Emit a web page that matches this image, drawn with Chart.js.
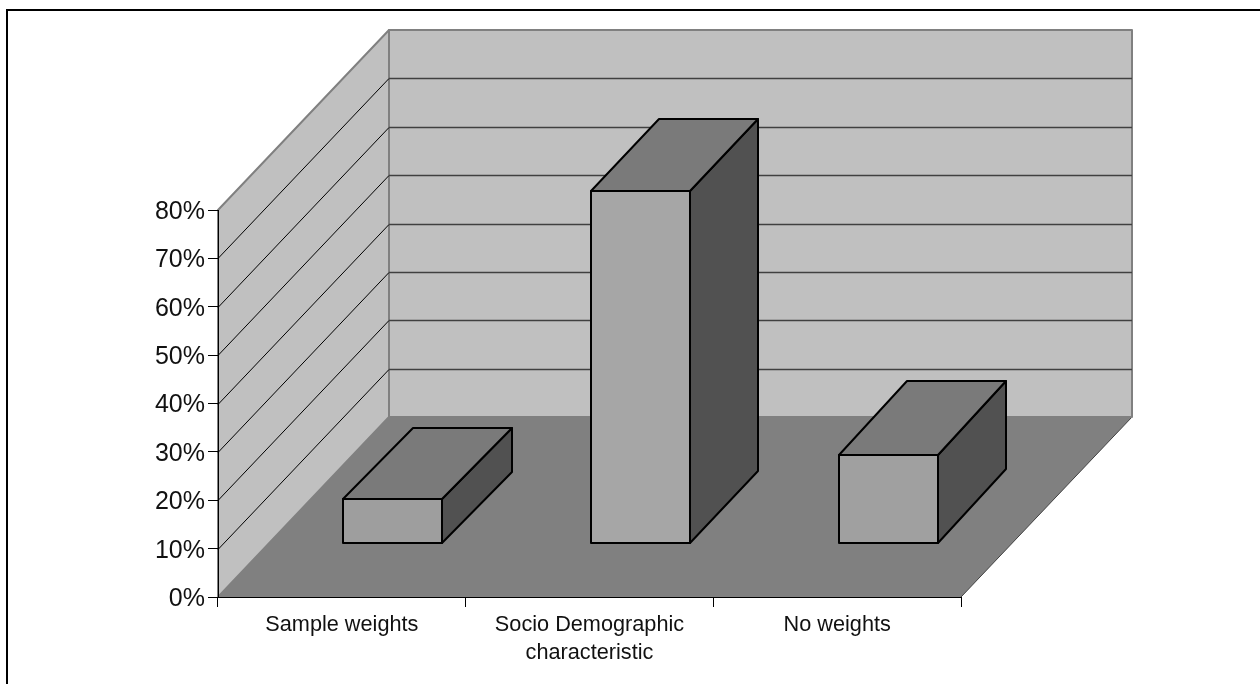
<!DOCTYPE html>
<html>
<head>
<meta charset="utf-8">
<style>
  html, body { margin: 0; padding: 0; background: #fff; }
  canvas { display: block; }
</style>
<script src="https://cdn.jsdelivr.net/npm/chart.js@4/dist/chart.umd.min.js"></script>
</head>
<body>
<canvas id="weights" width="1260" height="684"></canvas>
<script>
const categories = ["Sample weights", ["Socio Demographic", "characteristic"], "No weights"];
const shareValues = [9.0, 72.8, 18.1];
const tickValues = [0, 10, 20, 30, 40, 50, 60, 70, 80];
const frontColors = ["#9e9e9e", "#a6a6a6", "#a0a0a0"];

// depth of the floor and of the bars, in pixels on screen
const floorDepth = { x: 171, y: 180 };
const barStart = { x: 51, y: 54 };
const barDepthX = [70, 68, 68];
const barDepthY = [71, 72, 74];

function poly(ctx, pts, fill, stroke, width) {
    ctx.beginPath();
    pts.forEach(function (p, i) {
        if (i === 0) ctx.moveTo(p[0], p[1]);
        else ctx.lineTo(p[0], p[1]);
    });
    ctx.closePath();
    if (fill) {
        ctx.fillStyle = fill;
        ctx.fill();
    }
    if (stroke) {
        ctx.strokeStyle = stroke;
        ctx.lineWidth = width;
        ctx.lineJoin = "round";
        ctx.stroke();
    }
}

function barBox(bar) {
    const p = bar.getProps(["x", "y", "base", "width"], true);
    return {
        l: Math.round(p.x - p.width / 2),
        r: Math.round(p.x + p.width / 2),
        t: Math.round(p.y),
        b: Math.round(p.base)
    };
}

const walls = {
    id: "walls",
    beforeDraw: function (chart) {
        const ctx = chart.ctx;
        const a = chart.chartArea;
        const y = chart.scales.y;
        const dx = floorDepth.x, dy = floorDepth.y;
        const y0 = y.getPixelForValue(0), yTop = y.getPixelForValue(80);

        ctx.save();
        // outer frame, only left and top are visible in the picture
        ctx.strokeStyle = "#000";
        ctx.lineWidth = 2;
        ctx.beginPath();
        ctx.moveTo(7, 684);
        ctx.lineTo(7, 10);
        ctx.lineTo(1260, 10);
        ctx.stroke();

        // floor
        poly(ctx, [[a.left, y0], [a.right, y0], [a.right + dx, y0 - dy], [a.left + dx, y0 - dy]], "#808080");
        ctx.strokeStyle = "#404040";
        ctx.lineWidth = 1;
        ctx.beginPath();
        ctx.moveTo(a.right, y0);
        ctx.lineTo(a.right + dx, y0 - dy);
        ctx.stroke();

        // side wall and back wall
        poly(ctx, [[a.left, y0], [a.left + dx, y0 - dy], [a.left + dx, yTop - dy], [a.left, yTop]], "#c0c0c0", "#808080", 2);
        poly(ctx, [[a.left + dx, y0 - dy], [a.right + dx, y0 - dy], [a.right + dx, yTop - dy], [a.left + dx, yTop - dy]], "#c0c0c0", "#808080", 2);

        // grid lines run along the side wall then across the back
        tickValues.slice(1, -1).forEach(function (v) {
            const py = Math.round(y.getPixelForValue(v)) + 0.5;
            ctx.strokeStyle = "#000";
            ctx.lineWidth = 1;
            ctx.beginPath();
            ctx.moveTo(a.left, py);
            ctx.lineTo(a.left + dx, py - dy);
            ctx.stroke();
            ctx.strokeStyle = "#404040";
            ctx.lineWidth = 1.4;
            ctx.beginPath();
            ctx.moveTo(a.left + dx, py - dy);
            ctx.lineTo(a.right + dx, py - dy);
            ctx.stroke();
        });
        ctx.restore();
    },
    beforeDatasetDraw: function (chart, args) {
        const ctx = chart.ctx;
        ctx.save();
        ctx.translate(barStart.x, -barStart.y);
        args.meta.data.forEach(function (bar, i) {
            const b = barBox(bar);
            const dx = barDepthX[i], dy = barDepthY[i];
            poly(ctx, [[b.r, b.t], [b.r + dx, b.t - dy], [b.r + dx, b.b - dy], [b.r, b.b]], "#515151", "#000", 2);
            poly(ctx, [[b.l, b.t], [b.l + dx, b.t - dy], [b.r + dx, b.t - dy], [b.r, b.t]], "#7a7a7a", "#000", 2);
        });
    },
    afterDatasetDraw: function (chart, args) {
        const ctx = chart.ctx;
        args.meta.data.forEach(function (bar) {
            const b = barBox(bar);
            poly(ctx, [[b.l, b.t], [b.r, b.t], [b.r, b.b], [b.l, b.b]], null, "#000", 2);
        });
        ctx.restore();
    }
};

new Chart(document.getElementById("weights").getContext("2d"), {
    type: "bar",
    plugins: [walls],
    data: {
        labels: categories,
        datasets: [{
            data: shareValues,
            backgroundColor: frontColors,
            borderWidth: 0,
            barPercentage: 0.4,
            categoryPercentage: 1,
            clip: false
        }]
    },
    options: {
        responsive: false,
        animation: false,
        layout: { padding: { left: 148, top: 210, right: 299, bottom: 7 } },
        plugins: { legend: { display: false }, tooltip: { enabled: false }, title: { display: false } },
        scales: {
            x: {
                afterFit: function (scale) { scale.height = 80; },
                grid: { offset: true, drawOnChartArea: false, color: "#000", tickLength: 10 },
                border: { color: "#000", width: 1 },
                ticks: {
                    color: "#111",
                    padding: 4,
                    maxRotation: 0,
                    autoSkip: false,
                    font: { family: "'Liberation Sans'", size: 21.7, lineHeight: 1.3 }
                }
            },
            y: {
                min: 0,
                max: 80,
                afterFit: function (scale) { scale.width = 70; },
                afterBuildTicks: function (scale) {
                    scale.ticks = tickValues.map(function (v) { return { value: v }; });
                },
                grid: { drawOnChartArea: false, color: "#000", tickLength: 10 },
                border: { color: "#000", width: 1 },
                ticks: {
                    color: "#111",
                    padding: 3,
                    labelOffset: 2,
                    callback: function (v) { return v + "%"; },
                    font: { family: "'Liberation Sans'", size: 25 }
                }
            }
        }
    }
});
</script>
</body>
</html>
